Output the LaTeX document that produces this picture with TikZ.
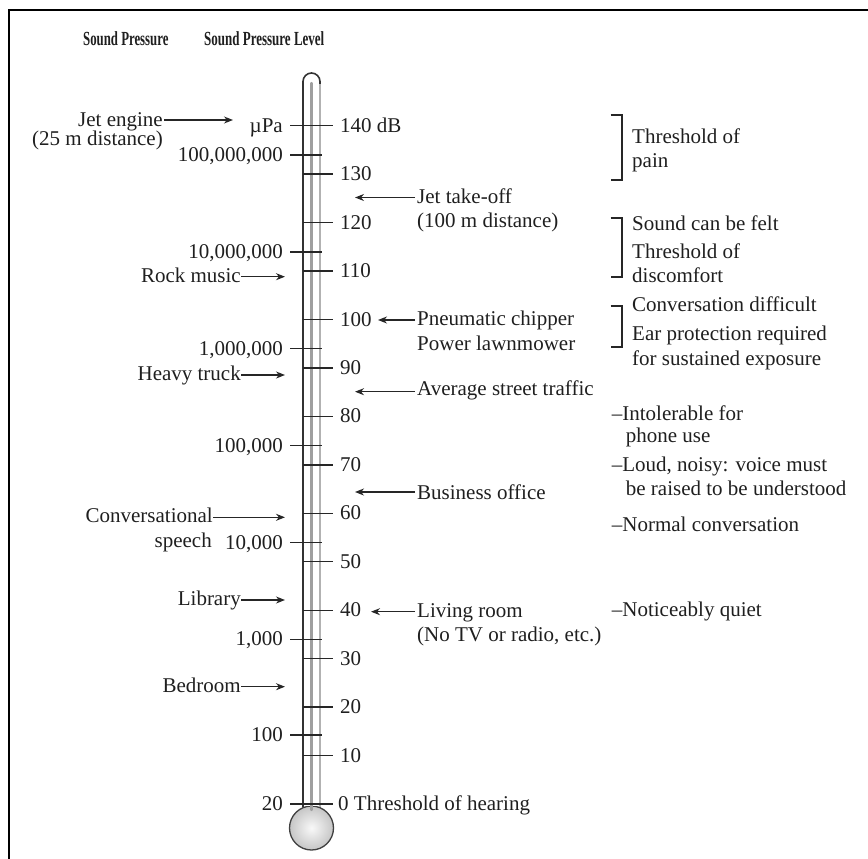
\documentclass[tikz,border=0pt]{standalone}
\usepackage{fontspec}
\usepackage{graphicx}
\setmainfont{Liberation Serif}
\usetikzlibrary{arrows.meta}
\begin{document}
\begin{tikzpicture}[x=1pt,y=-1pt,
  lbl/.style={inner sep=0pt, font=\fontsize{21}{25}\selectfont, text=black!88},
  hdr/.style={inner sep=0pt, text=black!88},
  arr/.style={-{Stealth[length=9pt,width=7pt]}, line width=1.4pt, draw=black!85},
  tickmark/.style={line width=1.4pt, draw=black!85},
  brk/.style={line width=1.6pt, draw=black!85},
]
\useasboundingbox (0,0) rectangle (868,859);
% frame
\draw[line width=2pt] (9,859) -- (9,10.5) -- (868,10.5);

% headers
\node[hdr, anchor=base west] (hsp) at (83,46) {\scalebox{0.64}[1]{\fontsize{20}{22}\selectfont\bfseries Sound Pressure}};
\node[hdr, anchor=base west] (hspl) at (204,46) {\scalebox{0.65}[1]{\fontsize{20}{22}\selectfont\bfseries Sound Pressure Level}};

% thermometer bulb
\shade[inner color=gray!5, outer color=gray!45] (311.5,828) circle[radius=22];
\draw[line width=1.3pt, draw=black!75] (311.5,828) circle[radius=22];
% tube
\fill[white] (304,806) rectangle (319,82);
\draw[line width=1.6pt, draw=black!80, rounded corners=8.5pt] (303,807) -- (303,73) -- (320,73) -- (320,807);
\draw[line width=1.6pt, draw=gray!60] (320,84) -- (320,807);
\draw[line width=2.2pt, draw=gray!75, line cap=round] (311.5,83) -- (311.5,810);

% dB ticks
\draw[tickmark] (290,125.7) -- (333,125.7);
\draw[tickmark] (303,174.15) -- (333,174.15);
\draw[tickmark] (303,222.6) -- (333,222.6);
\draw[tickmark] (303,271.05) -- (333,271.05);
\draw[tickmark] (303,319.5) -- (333,319.5);
\draw[tickmark] (303,367.95) -- (333,367.95);
\draw[tickmark] (303,416.4) -- (333,416.4);
\draw[tickmark] (303,464.85) -- (333,464.85);
\draw[tickmark] (303,513.3) -- (333,513.3);
\draw[tickmark] (303,561.75) -- (333,561.75);
\draw[tickmark] (303,610.2) -- (333,610.2);
\draw[tickmark] (303,658.65) -- (333,658.65);
\draw[tickmark] (303,707.1) -- (333,707.1);
\draw[tickmark] (303,755.55) -- (333,755.55);
\draw[tickmark] (290,804) -- (333,804);
% pressure ticks
\draw[tickmark] (290,154.9) -- (322,154.9);
\draw[tickmark] (290,251.8) -- (322,251.8);
\draw[tickmark] (290,348.7) -- (322,348.7);
\draw[tickmark] (290,445.6) -- (322,445.6);
\draw[tickmark] (290,542.5) -- (322,542.5);
\draw[tickmark] (290,639.4) -- (322,639.4);
\draw[tickmark] (290,735) -- (322,735);

% pressure labels
\node[lbl, anchor=base east] (upa) at (283,132.2) {µPa};
\node[lbl, anchor=base east] (p8) at (283,161.4) {100,000,000};
\node[lbl, anchor=base east] (p7) at (283,258.3) {10,000,000};
\node[lbl, anchor=base east] (p6) at (283,355.2) {1,000,000};
\node[lbl, anchor=base east] (p5) at (283,452.1) {100,000};
\node[lbl, anchor=base east] (p4) at (283,549) {10,000};
\node[lbl, anchor=base east] (p3) at (283,645.9) {1,000};
\node[lbl, anchor=base east] (p2) at (283,741.5) {100};
\node[lbl, anchor=base east] (p1) at (283,810.5) {20};

% dB labels
\node[lbl, anchor=base west] (d140) at (340,132.2) {140 dB};
\node[lbl, anchor=base west] (d130) at (340,180.65) {130};
\node[lbl, anchor=base west] (d120) at (340,229.1) {120};
\node[lbl, anchor=base west] (d110) at (340,277.55) {110};
\node[lbl, anchor=base west] (d100) at (340,326) {100};
\node[lbl, anchor=base west] (d90) at (340,374.45) {90};
\node[lbl, anchor=base west] (d80) at (340,422.9) {80};
\node[lbl, anchor=base west] (d70) at (340,471.35) {70};
\node[lbl, anchor=base west] (d60) at (340,519.8) {60};
\node[lbl, anchor=base west] (d50) at (340,568.25) {50};
\node[lbl, anchor=base west] (d40) at (340,616.7) {40};
\node[lbl, anchor=base west] (d30) at (340,665.15) {30};
\node[lbl, anchor=base west] (d20) at (340,713.6) {20};
\node[lbl, anchor=base west] (d10) at (340,762.05) {10};
\node[lbl, anchor=base west] (d0) at (338,810.5) {0 Threshold of hearing};

% left sources
\node[lbl, anchor=base east] (jet) at (163,126) {Jet engine};
\node[lbl, anchor=base east] (jet2) at (163,146) {(25 m distance)};
\coordinate (jetE) at (233,120);
\draw[arr] (jet.east |- jetE) ++(1,0) -- (jetE);

\node[lbl, anchor=base east] (rock) at (241,282) {Rock music};
\coordinate (rockE) at (285,276.7);
\draw[arr] (rock.east |- rockE) -- (rockE);

\node[lbl, anchor=base east] (truck) at (241,380) {Heavy truck};
\coordinate (truckE) at (285,375);
\draw[arr] (truck.east |- truckE) -- (truckE);

\node[lbl, anchor=base east] (conv) at (213,522) {Conversational};
\node[lbl, anchor=base east] (conv2) at (212,547) {speech};
\coordinate (convE) at (285,517.3);
\draw[arr] (conv.east |- convE) -- (convE);

\node[lbl, anchor=base east] (lib) at (241,605) {Library};
\coordinate (libE) at (285,600);
\draw[arr] (lib.east |- libE) -- (libE);

\node[lbl, anchor=base east] (bed) at (241,692) {Bedroom};
\coordinate (bedE) at (285,686.7);
\draw[arr] (bed.east |- bedE) -- (bedE);

% right sources
\node[lbl, anchor=base west] (jto) at (417,203) {Jet take-off};
\node[lbl, anchor=base west] (jto2) at (417,227) {(100 m distance)};
\coordinate (jtoE) at (355,197.5);
\draw[arr] (jto.west |- jtoE) ++(-2,0) -- (jtoE);

\node[lbl, anchor=base west] (pc) at (417,325) {Pneumatic chipper};
\node[lbl, anchor=base west] (pc2) at (417,350) {Power lawnmower};
\coordinate (pcE) at (378,320);
\draw[arr] (pc.west |- pcE) ++(-2,0) -- (pcE);

\node[lbl, anchor=base west] (ast) at (417,395) {Average street traffic};
\coordinate (astE) at (355,391.7);
\draw[arr] (ast.west |- astE) ++(-2,0) -- (astE);

\node[lbl, anchor=base west] (bo) at (417,499) {Business office};
\coordinate (boE) at (355,492);
\draw[arr] (bo.west |- boE) ++(-2,0) -- (boE);

\node[lbl, anchor=base west] (lr) at (417,617) {Living room};
\node[lbl, anchor=base west] (lr2) at (417,641) {(No TV or radio, etc.)};
\coordinate (lrE) at (371,611.7);
\draw[arr] (lr.west |- lrE) ++(-2,0) -- (lrE);

% brackets and effects
\draw[brk] (610.7,115) -- (621.7,115) -- (621.7,180) -- (610.7,180);
\node[lbl, anchor=base west] (e1a) at (632,143) {Threshold of};
\node[lbl, anchor=base west] (e1b) at (632,167) {pain};

\draw[brk] (610.7,217.7) -- (621.7,217.7) -- (621.7,276.7) -- (610.7,276.7);
\node[lbl, anchor=base west] (e2a) at (632,230) {Sound can be felt};
\node[lbl, anchor=base west] (e2b) at (632,258) {Threshold of};
\node[lbl, anchor=base west] (e2c) at (632,282) {discomfort};

\draw[brk] (610.7,305.7) -- (621.7,305.7) -- (621.7,346.7) -- (610.7,346.7);
\node[lbl, anchor=base west] (e3a) at (632,311.5) {Conversation difficult};
\node[lbl, anchor=base west] (e3b) at (632,340) {Ear protection required};
\node[lbl, anchor=base west] (e3c) at (632,365) {for sustained exposure};

\node[lbl, anchor=base west] (e4a) at (611.7,420) {–Intolerable for};
\node[lbl, anchor=base west] (e4b) at (625.7,442) {phone use};
\node[lbl, anchor=base west] (e5a) at (611.7,471.5) {–Loud, noisy: voice must};
\node[lbl, anchor=base west] (e5b) at (625.7,495) {be raised to be understood};
\node[lbl, anchor=base west] (e6) at (611.7,531.5) {–Normal conversation};
\node[lbl, anchor=base west] (e7) at (611.7,616.7) {–Noticeably quiet};
\end{tikzpicture}
\end{document}
